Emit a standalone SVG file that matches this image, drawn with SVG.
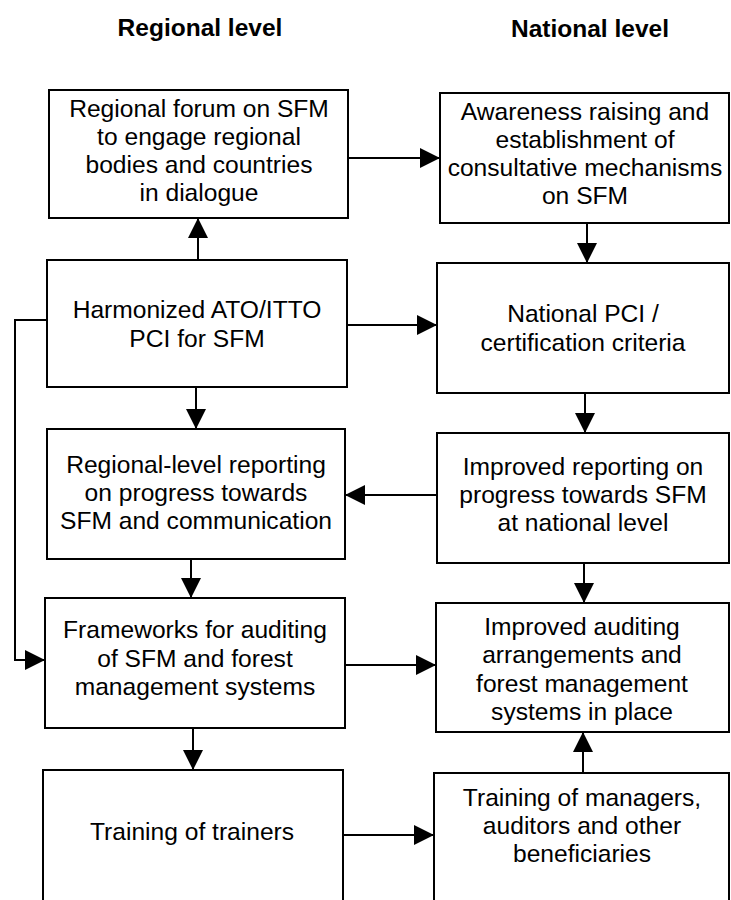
<svg xmlns="http://www.w3.org/2000/svg" width="731" height="900" viewBox="0 0 731 900">
<style>
.box{fill:#fff;stroke:#000;stroke-width:2}
.t{font-family:"Liberation Sans",Arial,sans-serif;font-size:24.6px;fill:#000;text-anchor:middle}
.h{font-family:"Liberation Sans",Arial,sans-serif;font-size:24.5px;font-weight:bold;fill:#000;text-anchor:middle}
.c{fill:none;stroke:#000;stroke-width:2}
</style>
<defs>
<marker id="ah" markerWidth="20" markerHeight="20" refX="20" refY="10" orient="auto" markerUnits="userSpaceOnUse" viewBox="0 0 20 20">
<path d="M0,0 L20,10 L0,20 Z" fill="#000"/>
</marker>
</defs>
<rect width="731" height="900" fill="#fff"/>
<text class="h" x="200" y="36">Regional level</text>
<text class="h" x="590" y="37">National level</text>
<g id="connectors">
<path class="c" marker-end="url(#ah)" d="M198,260 L198,218"/>
<path class="c" marker-end="url(#ah)" d="M348,158 L440,158"/>
<path class="c" marker-end="url(#ah)" d="M587,223 L587,263"/>
<path class="c" marker-end="url(#ah)" d="M347,325 L437,325"/>
<path class="c" marker-end="url(#ah)" d="M196,387 L196,429"/>
<path class="c" marker-end="url(#ah)" d="M585,393 L585,433"/>
<path class="c" marker-end="url(#ah)" d="M437,495 L345,495"/>
<path class="c" marker-end="url(#ah)" d="M191,559 L191,598"/>
<path class="c" marker-end="url(#ah)" d="M584,563 L584,603"/>
<path class="c" marker-end="url(#ah)" d="M47,320 L15,320 L15,660 L45,660"/>
<path class="c" marker-end="url(#ah)" d="M345,665 L436,665"/>
<path class="c" marker-end="url(#ah)" d="M193,728 L193,770"/>
<path class="c" marker-end="url(#ah)" d="M343,835 L434,835"/>
<path class="c" marker-end="url(#ah)" d="M583,773 L583,732"/>
</g>
<g id="forum">
<rect class="box" x="49" y="90" width="299" height="128"/>
<text class="t" x="199" y="117">Regional forum on SFM</text>
<text class="t" x="199" y="145">to engage regional</text>
<text class="t" x="199" y="173">bodies and countries</text>
<text class="t" x="199" y="201">in dialogue</text>
</g>
<g id="awareness">
<rect class="box" x="440" y="93" width="289" height="130"/>
<text class="t" x="585" y="120">Awareness raising and</text>
<text class="t" x="585" y="148">establishment of</text>
<text class="t" x="585" y="176">consultative mechanisms</text>
<text class="t" x="585" y="204">on SFM</text>
</g>
<g id="harmonized">
<rect class="box" x="47" y="260" width="300" height="127"/>
<text class="t" x="197" y="318">Harmonized ATO/ITTO</text>
<text class="t" x="197" y="347">PCI for SFM</text>
</g>
<g id="nationalpci">
<rect class="box" x="437" y="263" width="292" height="130"/>
<text class="t" x="583" y="322">National PCI /</text>
<text class="t" x="583" y="351">certification criteria</text>
</g>
<g id="regreporting">
<rect class="box" x="47" y="429" width="298" height="130"/>
<text class="t" x="196" y="473">Regional-level reporting</text>
<text class="t" x="196" y="501">on progress towards</text>
<text class="t" x="196" y="529">SFM and communication</text>
</g>
<g id="natreporting">
<rect class="box" x="437" y="433" width="292" height="130"/>
<text class="t" x="583" y="475">Improved reporting on</text>
<text class="t" x="583" y="503">progress towards SFM</text>
<text class="t" x="583" y="531">at national level</text>
</g>
<g id="frameworks">
<rect class="box" x="45" y="598" width="300" height="130"/>
<text class="t" x="195" y="638">Frameworks for auditing</text>
<text class="t" x="195" y="667">of SFM and forest</text>
<text class="t" x="195" y="695">management systems</text>
</g>
<g id="auditing">
<rect class="box" x="436" y="603" width="293" height="129"/>
<text class="t" x="582" y="635">Improved auditing</text>
<text class="t" x="582" y="663">arrangements and</text>
<text class="t" x="582" y="692">forest management</text>
<text class="t" x="582" y="720">systems in place</text>
</g>
<g id="trainers">
<rect class="box" x="43" y="770" width="300" height="150"/>
<text class="t" x="192" y="840">Training of trainers</text>
</g>
<g id="managers">
<rect class="box" x="434" y="773" width="295" height="150"/>
<text class="t" x="582" y="806">Training of managers,</text>
<text class="t" x="582" y="834">auditors and other</text>
<text class="t" x="582" y="862">beneficiaries</text>
</g>
</svg>
